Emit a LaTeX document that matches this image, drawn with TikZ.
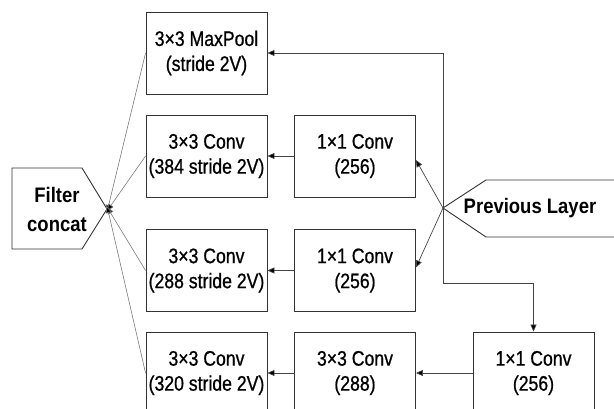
\documentclass[tikz,border=0pt]{standalone}
\usepackage{fontspec}
\setmainfont{Liberation Sans}
\newfontfamily\boxfont[FakeStretch=0.84,FakeBold=0.8]{Liberation Sans}
\newfontfamily\lblfont[FakeStretch=0.88]{Liberation Sans}
\usetikzlibrary{arrows.meta}
\definecolor{edgec}{HTML}{333333}
\definecolor{linec}{HTML}{444444}
\definecolor{thinc}{HTML}{7A7A7A}
\tikzset{
  blk/.style={draw=edgec, line width=0.9pt, minimum width=121pt, minimum height=82pt,
    inner sep=0pt, align=center, font=\boxfont\fontsize{21}{25}\selectfont},
  lbl/.style={inner sep=0pt, align=center, font=\lblfont\bfseries\fontsize{21}{29}\selectfont},
  arr/.style={draw=linec, line width=0.7pt, -{Triangle[length=7pt,width=6pt,fill=black]}},
  plain/.style={draw=linec, line width=0.7pt},
  thin/.style={draw=thinc, line width=0.6pt, -{Triangle[length=7pt,width=6pt,fill=black]}},
  shapeline/.style={draw=edgec, line width=0.9pt}
}
\begin{document}
\begin{tikzpicture}[x=1pt,y=-1pt]
\useasboundingbox (0,0) rectangle (614,409);
\begin{scope}
\clip (0,0) rectangle (614,409);
% boxes
\node[blk] (mp) at (206.5,53) {3×3 MaxPool\\(stride 2V)};
\node[blk] (c384) at (206.5,156) {3×3 Conv\\(384 stride 2V)};
\node[blk] (r2) at (355,156) {1×1 Conv\\(256)};
\node[blk] (c288) at (206.5,270.5) {3×3 Conv\\(288 stride 2V)};
\node[blk] (r3) at (355,270.5) {1×1 Conv\\(256)};
\node[blk] (c320) at (206.5,373) {3×3 Conv\\(320 stride 2V)};
\node[blk] (c288b) at (355,373) {3×3 Conv\\(288)};
\node[blk] (r4) at (533.5,373) {1×1 Conv\\(256)};
% filter concat shape
\draw[shapeline] (12,168) -- (82,168) -- (107,209) -- (82,249) -- (12,249) -- cycle;
\coordinate (fc) at (107,209);
\node[lbl] (fct) at (57,209) {Filter\\concat};
% previous layer shape
\draw[shapeline] (630,180) -- (486,180) -- (443,208) -- (486,237) -- (630,237);
\coordinate (pl) at (443,208);
\node[lbl] (plt) at (530,208) {Previous Layer};
% trunk
\coordinate (tT) at (443,53);
\coordinate (tB) at (443,283);
\draw[arr] (tT) -- (mp.east);
\draw[plain] (tT) -- (tB);
\draw[arr] (tB) -| (r4.north);
\draw[arr] (pl) -- ([yshift=-4pt]r2.east);
\draw[arr] (pl) -- ([yshift=3pt]r3.east);
% row arrows
\draw[arr] (r2) -- (c384);
\draw[arr] (r3) -- (c288);
\draw[arr] (r4) -- (c288b);
\draw[arr] (c288b) -- (c320);
% to concat
\draw[thin] (mp.west) -- ([yshift=-3pt]fc);
\draw[thin] (c384.west) -- ([yshift=-2pt]fc);
\draw[thin] (c288.west) -- ([yshift=2pt]fc);
\draw[thin] (c320.west) -- ([yshift=3pt]fc);
\end{scope}
\end{tikzpicture}
\end{document}
